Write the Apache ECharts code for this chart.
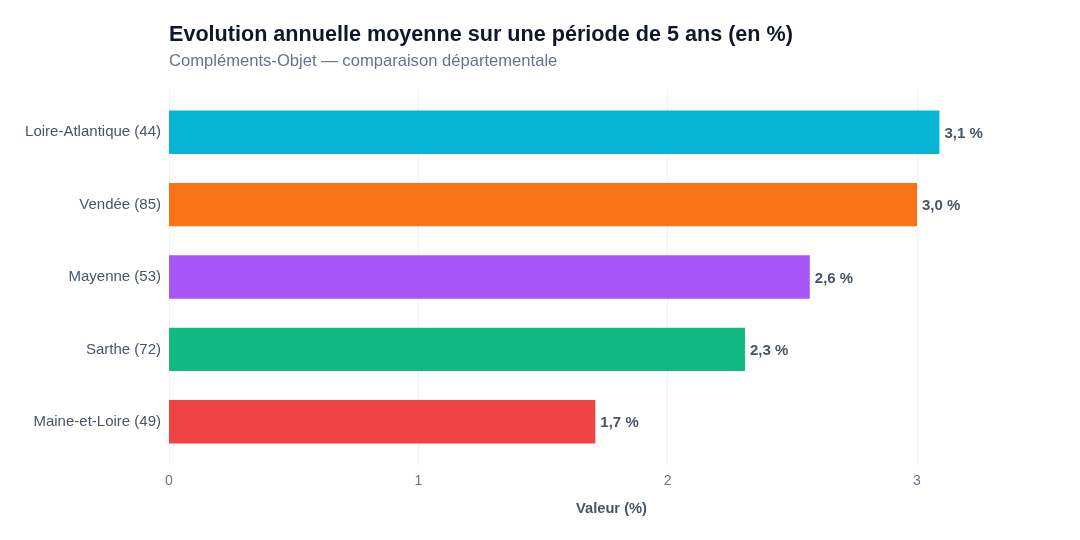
<!DOCTYPE html>
<html>
<head>
<meta charset="utf-8">
<script src="https://cdn.jsdelivr.net/npm/echarts@6/dist/echarts.min.js"></script>
<style>
  html, body { margin: 0; padding: 0; background: #fff; }
  #chart { width: 1080px; height: 540px; }
</style>
</head>
<body>
<div id="chart"></div>
<script>
var departements = ['Loire-Atlantique (44)', 'Vendée (85)', 'Mayenne (53)', 'Sarthe (72)', 'Maine-et-Loire (49)']
var evolution = [3.09, 3.0, 2.57, 2.31, 1.71]
var couleurs = ['#06b6d4', '#f97316', '#a855f7', '#10b981', '#ef4444']
var xTicks = [0, 1, 2, 3]

var font = '"Liberation Sans", Arial, sans-serif'
var chart = echarts.init(document.getElementById('chart'))

var data = evolution.map(function (v, i) {
  return { value: v, itemStyle: { color: couleurs[i] } }
})

chart.setOption({
  backgroundColor: '#fff',
  animation: false,
  title: {
    text: 'Evolution annuelle moyenne sur une période de 5 ans (en %)',
    subtext: 'Compléments-Objet — comparaison départementale',
    left: 164,
    top: 19,
    itemGap: 7,
    textStyle: { fontFamily: font, fontSize: 21.6, fontWeight: 'bold', color: '#0f172a' },
    subtextStyle: { fontFamily: font, fontSize: 16.6, color: '#64748b' }
  },
  grid: [
    { left: 169, right: 163, top: 96, bottom: 82 },
    { left: 169, right: 163, top: 89, bottom: 75 }
  ],
  xAxis: [
    {
      gridIndex: 0, type: 'value', min: 0, max: 3, interval: 1, show: false
    },
    {
      gridIndex: 1, type: 'value', min: xTicks[0], max: xTicks[xTicks.length - 1], interval: 1,
      axisLine: { show: false },
      axisTick: { show: false },
      axisLabel: { fontFamily: font, fontSize: 14, color: '#64748b', margin: 9 },
      splitLine: { show: true, lineStyle: { color: '#eef2f6', width: 1 } },
      name: 'Valeur (%)',
      nameLocation: 'middle',
      nameGap: 36,
      nameTextStyle: { fontFamily: font, fontSize: 14.7, fontWeight: 'bold', color: '#475569', padding: [0, 0, 0, 137] }
    }
  ],
  yAxis: [
    {
      gridIndex: 0, type: 'category', data: departements, inverse: true,
      axisLine: { show: false },
      axisTick: { show: false },
      splitLine: { show: false },
      axisLabel: { fontFamily: font, fontSize: 15, color: '#475569', margin: 8, padding: [3, 0, 0, 0] }
    },
    { gridIndex: 1, type: 'value', show: false }
  ],
  series: [{
    type: 'bar',
    xAxisIndex: 0,
    yAxisIndex: 0,
    data: data,
    barCategoryGap: '40%',
    clip: false,
    label: {
      show: true,
      position: 'right',
      distance: 5,
      offset: [0, 1.5],
      fontFamily: font,
      fontSize: 15,
      fontWeight: 'bold',
      color: '#475569',
      formatter: function (p) {
        return p.value.toFixed(1).replace('.', ',') + ' %'
      }
    }
  }]
})
</script>
</body>
</html>
